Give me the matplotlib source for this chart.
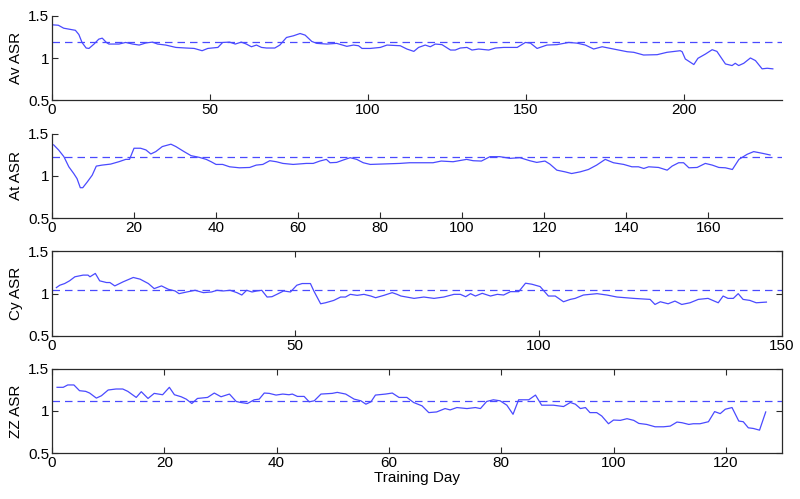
import matplotlib
matplotlib.use("Agg")
import matplotlib.pyplot as plt

plt.rcParams["font.family"] = ["Liberation Sans", "DejaVu Sans"]

# %% data (day, ASR)
av_day = [0.5, 2, 3.7, 7.4, 8.5, 9.5, 10.8, 11.7, 13.3, 14.8, 15.9, 17.2, 18, 21.2, 23.3,
          25.5, 27.6, 29.7, 31.8, 33.4, 36, 39.2, 42.4, 45, 47.5, 49.3, 52.5, 54, 56.2,
          58, 59.9, 61.5, 63.1, 64.7, 66.3, 67.9, 70.5, 72.1, 74.2, 76.4, 78.5, 80.1,
          82.2, 83.8, 87, 90.1, 93.3, 95.4, 97, 98.1, 100.7, 103.9, 106, 110.2, 112.3,
          114.5, 116, 118.1, 119.7, 121.3, 123.4, 126.1, 127.6, 129.2, 131.3, 132.9, 135,
          138.2, 140.3, 142.9, 147.2, 149.8, 151.4, 153.5, 156.6, 159.8, 163.5, 166.1,
          168.8, 171.4, 174.1, 177.7, 182, 184.1, 187.2, 191.5, 194.6, 198.8, 199.4,
          200.4, 203.1, 204.4, 206.8, 208.9, 210.4, 213.1, 215.2, 216.2, 217.3, 218.9,
          221, 222.6, 224.7, 226.3, 228.1]
av_asr = [1.394, 1.39, 1.355, 1.33, 1.28, 1.186, 1.12, 1.115, 1.167, 1.225, 1.237, 1.186,
          1.167, 1.167, 1.186, 1.167, 1.155, 1.18, 1.19, 1.167, 1.155, 1.127, 1.12, 1.115,
          1.088, 1.115, 1.127, 1.186, 1.19, 1.167, 1.19, 1.167, 1.135, 1.155, 1.127, 1.12,
          1.12, 1.155, 1.245, 1.265, 1.292, 1.273, 1.198, 1.175, 1.167, 1.175, 1.14, 1.155,
          1.147, 1.115, 1.115, 1.127, 1.155, 1.147, 1.108, 1.08, 1.127, 1.155, 1.135,
          1.167, 1.16, 1.096, 1.096, 1.12, 1.127, 1.096, 1.108, 1.096, 1.12, 1.127, 1.127,
          1.186, 1.178, 1.115, 1.155, 1.16, 1.186, 1.178, 1.155, 1.108, 1.135, 1.108,
          1.076, 1.069, 1.037, 1.041, 1.069, 1.088, 1.076, 0.99, 0.924, 0.998, 1.049, 1.1,
          1.08, 0.931, 0.912, 0.939, 0.912, 0.939, 1.002, 0.971, 0.873, 0.88, 0.873]
av_mean = 1.19

at_day = [0.4, 1.6, 2.9, 4.1, 5.3, 6.1, 6.9, 7.5, 8.6, 9.8, 10.8, 12.2, 14.3, 16.3, 18,
          18.9, 20, 21.6, 22.9, 24.1, 25.3, 26.9, 29, 30.2, 32.2, 33.9, 35.9, 37.6, 38.8,
          40, 41.6, 43.3, 45.7, 48.2, 49.8, 51.4, 53.1, 54.7, 56.3, 58.8, 62, 63.7, 65.3,
          66.9, 67.8, 69.4, 71, 72.7, 74.3, 75.9, 77.6, 80, 84.8, 87.2, 89.6, 92.9, 94.9,
          97.8, 101.1, 102.7, 104.7, 106.8, 109.2, 111.7, 114.1, 116.5, 118.2, 120.2,
          121.4, 123.1, 125.1, 126.7, 128.8, 130.8, 132.8, 134.9, 136.9, 139.4, 141.4,
          143, 144.3, 145.5, 147.9, 150, 151.2, 152.8, 154, 155.3, 157.3, 159.3, 161,
          162.6, 164.2, 165.9, 167.5, 169.5, 171.1, 173.2, 175.1]
at_asr = [1.368, 1.308, 1.228, 1.108, 1.028, 0.968, 0.86, 0.86, 0.928, 1.008, 1.116,
          1.128, 1.14, 1.168, 1.196, 1.196, 1.328, 1.328, 1.308, 1.26, 1.288, 1.348,
          1.376, 1.348, 1.288, 1.24, 1.22, 1.196, 1.168, 1.136, 1.136, 1.108, 1.096, 1.1,
          1.128, 1.136, 1.18, 1.168, 1.148, 1.136, 1.148, 1.148, 1.176, 1.196, 1.156,
          1.16, 1.188, 1.216, 1.196, 1.156, 1.136, 1.14, 1.148, 1.156, 1.156, 1.156,
          1.176, 1.168, 1.196, 1.18, 1.176, 1.228, 1.228, 1.208, 1.216, 1.18, 1.16, 1.176,
          1.14, 1.068, 1.048, 1.028, 1.048, 1.076, 1.128, 1.196, 1.156, 1.136, 1.108,
          1.108, 1.088, 1.108, 1.1, 1.068, 1.116, 1.156, 1.156, 1.096, 1.1, 1.148, 1.128,
          1.1, 1.096, 1.076, 1.196, 1.256, 1.288, 1.268, 1.248]
at_mean = 1.224

cy_day = [0.9, 1.6, 2.6, 3.6, 4.7, 6.4, 7.4, 7.8, 8.9, 9.8, 11.2, 11.9, 12.9, 14.6, 16.7,
          18.1, 19.8, 21, 22.5, 23.9, 25.3, 26.1, 27.7, 29.4, 31.1, 32.8, 33.9, 35.2,
          36.6, 38, 39, 40, 41.1, 42.1, 43.1, 44.2, 45.2, 46.2, 47.6, 49, 50.3, 51.4,
          53.1, 53.8, 55.2, 56.2, 57.9, 59.3, 60.3, 61.3, 62.7, 64.1, 65.5, 66.5, 68.2,
          69.9, 70.9, 71.7, 74.4, 76.4, 78.5, 80.5, 82.6, 83.9, 85, 86, 87, 88.4, 90.1,
          91.5, 92.8, 94.2, 95.9, 97.3, 98.6, 100.3, 102, 103.4, 105.1, 106.5, 107.5,
          109.2, 112, 114, 116.1, 119.5, 122.9, 123.9, 125, 126.6, 128, 129.4, 131.1,
          132.8, 134.8, 136.9, 137.9, 138.9, 140, 141, 142, 143.4, 144.7, 146.8]
cy_asr = [1.072, 1.1, 1.12, 1.152, 1.2, 1.22, 1.22, 1.2, 1.24, 1.152, 1.132, 1.132, 1.092,
          1.14, 1.192, 1.172, 1.12, 1.06, 1.092, 1.052, 1.032, 1.0, 1.02, 1.04, 1.012,
          1.02, 1.04, 1.032, 1.04, 1.012, 0.984, 1.04, 1.02, 1.032, 1.04, 0.96, 0.964,
          0.992, 1.032, 1.02, 1.1, 1.12, 1.12, 1.032, 0.88, 0.892, 0.92, 0.96, 0.96, 0.992,
          0.98, 0.992, 0.972, 0.952, 0.98, 1.012, 0.992, 0.972, 0.944, 0.96, 0.944, 0.96,
          0.992, 0.992, 0.964, 1.0, 0.972, 1.004, 0.972, 0.992, 0.984, 1.024, 1.024, 1.124,
          1.112, 1.084, 0.972, 0.972, 0.904, 0.932, 0.944, 0.984, 1.0, 0.984, 0.96, 0.944,
          0.932, 0.872, 0.904, 0.88, 0.912, 0.872, 0.892, 0.932, 0.944, 0.892, 0.972,
          0.944, 0.944, 1.0, 0.932, 0.92, 0.892, 0.9]
cy_mean = 1.044

zz_day = [0.9, 2, 2.8, 3.9, 4.9, 6, 6.7, 7.9, 8.8, 10, 11.4, 12.6, 13.5, 15, 15.9, 17.1,
          18.2, 19.7, 20.9, 21.8, 23, 23.9, 24.9, 25.9, 27.7, 28.9, 30.1, 31.6, 32.8, 33.6,
          34.8, 36, 36.9, 37.8, 38.7, 39.9, 41.1, 42.2, 42.8, 43.7, 44.9, 45.8, 46.7,
          47.9, 49.9, 50.8, 52.3, 53.8, 55, 55.9, 56.8, 57.6, 59.4, 60.6, 61.8, 63.2,
          64.4, 65.9, 67.1, 68.5, 70, 70.9, 72.1, 73.9, 75.4, 76.3, 77.4, 78.6, 79.8, 81,
          82.1, 83.1, 84.9, 86.1, 87.2, 89.3, 91.1, 92.3, 93.2, 94.1, 95, 95.8, 97, 97.9,
          99.1, 100, 101.2, 102.4, 103.6, 104.5, 105.9, 107.4, 108.9, 110.1, 111.3, 112.2,
          113.4, 114.2, 115.4, 116.9, 118, 119, 119.9, 121.1, 122.3, 123.1, 124, 124.9,
          126, 127.1]
zz_asr = [1.28, 1.28, 1.308, 1.308, 1.24, 1.232, 1.212, 1.152, 1.18, 1.248, 1.26, 1.26,
          1.232, 1.16, 1.228, 1.148, 1.208, 1.192, 1.28, 1.192, 1.168, 1.14, 1.088, 1.148,
          1.16, 1.212, 1.168, 1.2, 1.112, 1.1, 1.088, 1.132, 1.14, 1.212, 1.208, 1.188,
          1.2, 1.192, 1.2, 1.172, 1.172, 1.108, 1.12, 1.2, 1.208, 1.22, 1.2, 1.14, 1.12,
          1.08, 1.108, 1.188, 1.2, 1.212, 1.16, 1.16, 1.1, 1.06, 0.98, 0.988, 1.028, 1.012,
          1.04, 1.028, 1.04, 1.028, 1.112, 1.132, 1.12, 1.068, 0.96, 1.132, 1.132, 1.188,
          1.068, 1.068, 1.052, 1.1, 1.08, 1.028, 1.04, 0.98, 0.98, 0.94, 0.848, 0.892,
          0.888, 0.908, 0.888, 0.852, 0.84, 0.812, 0.812, 0.82, 0.868, 0.86, 0.84, 0.848,
          0.848, 0.872, 0.992, 0.968, 1.02, 1.04, 0.88, 0.872, 0.8, 0.792, 0.772, 0.988]
zz_mean = 1.112

panels = [
    ("Av ASR", av_day, av_asr, av_mean, 231, [0, 50, 100, 150, 200], False),
    ("At ASR", at_day, at_asr, at_mean, 178, [0, 20, 40, 60, 80, 100, 120, 140, 160], False),
    ("Cy ASR", cy_day, cy_asr, cy_mean, 150, [0, 50, 100, 150], True),
    ("ZZ ASR", zz_day, zz_asr, zz_mean, 130, [0, 20, 40, 60, 80, 100, 120], True),
]
bottoms = [0.799, 0.563, 0.327, 0.092]

# %% plot
fig = plt.figure(figsize=(8.0, 4.99), dpi=100)
linecol = "#4a4aff"
axcol = "#2a2a2a"

for (label, d, v, m, xmax, xt, box), b in zip(panels, bottoms):
    ax = fig.add_axes([0.065, b, 0.9125, 0.169])
    ax.plot(d, v, color=linecol, lw=0.9)
    ax.axhline(m, color=linecol, lw=0.9, dashes=(6, 4))
    ax.set_xlim(0, xmax)
    ax.set_ylim(0.5, 1.5)
    ax.set_xticks(xt)
    ax.set_yticks([0.5, 1, 1.5])
    ax.set_yticklabels(["0.5", "1", "1.5"])
    ax.set_ylabel(label, fontsize=11, labelpad=4)
    ax.tick_params(direction="in", length=4, width=0.8, colors=axcol,
                   labelsize=11, labelcolor="black", pad=2,
                   top=box, right=box)
    for s in ax.spines.values():
        s.set_color(axcol)
        s.set_linewidth(0.9)
    if not box:
        ax.spines["top"].set_visible(False)
        ax.spines["right"].set_visible(False)
    if label == "ZZ ASR":
        ax.set_xlabel("Training Day", fontsize=11, labelpad=1)

fig.savefig("out.png", dpi=100)
